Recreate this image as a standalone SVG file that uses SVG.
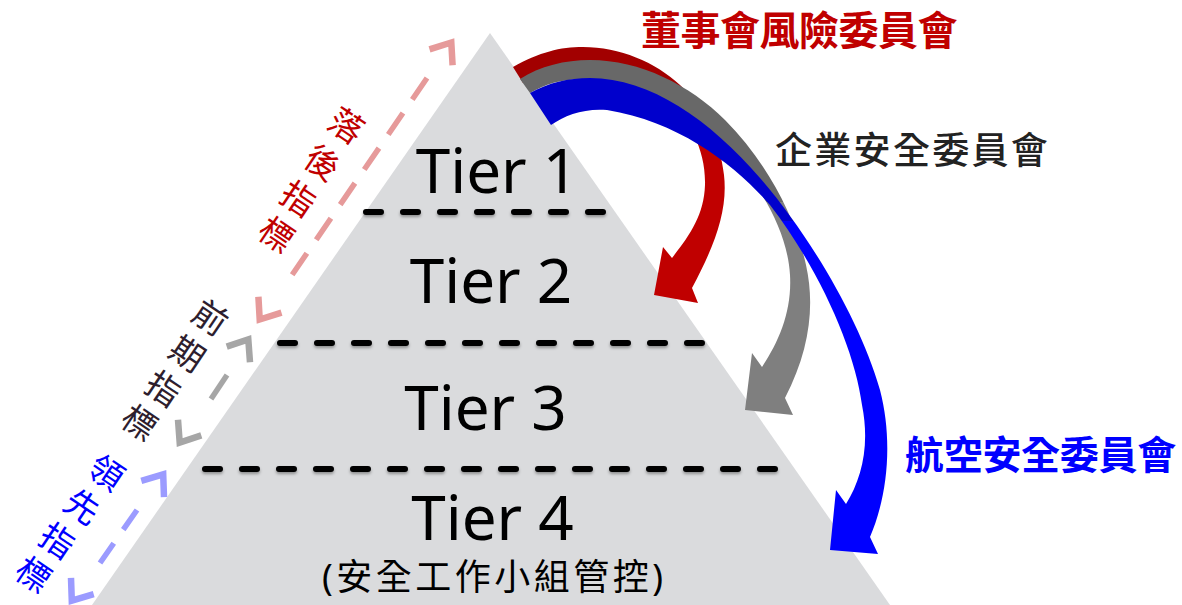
<svg xmlns="http://www.w3.org/2000/svg" width="1182" height="605" viewBox="0 0 1182 605">
  <style>
    .tier { font-family: "Noto Sans", "Open Sans", sans-serif; font-size: 62px; fill: #000; text-anchor: middle; }
    .cjk { font-family: "Noto Sans", "Noto Sans CJK TC", sans-serif; }
    .divider { stroke: #000; stroke-width: 6; stroke-linecap: round; stroke-dasharray: 15 22; fill: none; }
    .ind { fill: none; stroke-width: 5.5; stroke-linecap: butt; }
    .chev { fill: none; stroke-width: 6.5; stroke-linejoin: miter; }
    .lbl { font-family: "Noto Sans CJK TC", sans-serif; font-size: 34px; text-anchor: middle; }
  </style>
  <defs>
    <filter id="sh" x="-5%" y="-100%" width="110%" height="400%">
      <feDropShadow dx="0" dy="2" stdDeviation="1.5" flood-color="#000" flood-opacity="0.35"/>
    </filter>
    <linearGradient id="gRed" x1="0" y1="0" x2="0" y2="1">
      <stop offset="0" stop-color="#a20000"/>
      <stop offset="0.25" stop-color="#a20000"/>
      <stop offset="0.25" stop-color="#c00000"/>
      <stop offset="1" stop-color="#c00000"/>
    </linearGradient>
    <linearGradient id="gGray" x1="0" y1="0" x2="0" y2="1">
      <stop offset="0" stop-color="#686868"/>
      <stop offset="0.4" stop-color="#686868"/>
      <stop offset="0.4" stop-color="#7f7f7f"/>
      <stop offset="1" stop-color="#7f7f7f"/>
    </linearGradient>
    <linearGradient id="gBlue" x1="0" y1="0" x2="0" y2="1">
      <stop offset="0" stop-color="#0000cc"/>
      <stop offset="0.3" stop-color="#0000cc"/>
      <stop offset="0.3" stop-color="#0000ff"/>
      <stop offset="1" stop-color="#0000ff"/>
    </linearGradient>
  </defs>

  <rect width="1182" height="605" fill="#ffffff"/>

  <!-- Pyramid -->
  <g id="pyramid">
    <polygon points="490,33 890,605 92,605" fill="#dadbdd"/>
    <g filter="url(#sh)">
      <line class="divider" x1="366" y1="212" x2="610" y2="212"/>
      <line class="divider" x1="280" y1="343" x2="708" y2="343"/>
      <line class="divider" x1="205" y1="469" x2="782" y2="469"/>
    </g>
  </g>

  <g id="tier1"><text class="tier" x="497" y="193">Tier 1</text></g>
  <g id="tier2"><text class="tier" x="491" y="303">Tier 2</text></g>
  <g id="tier3"><text class="tier" x="485.5" y="430">Tier 3</text></g>
  <g id="tier4">
    <text class="tier" x="492.5" y="540">Tier 4</text>
    <text class="cjk" x="322" y="590" font-size="36" letter-spacing="3.5" fill="#000">(安全工作小組管控)</text>
  </g>

  <!-- Curved arrows -->
  <g id="connectors">
    <path id="arrow-red" fill="url(#gRed)" d="M 513 67 C 540 52 560 47 583 47 C 620 47 655 62 680 85 C 705 108 720 140 724 175 C 728 210 715 245 692 288 L 698 303 L 654 295 L 663 247 L 672 258 C 690 235 704 215 705 185 C 706 150 690 120 665 100 C 640 82 610 66 583 66 C 560 66 540 72 523 83 Z"/>
    <path id="arrow-gray" fill="url(#gGray)" d="M 520 79 C 540 66 565 60 590 60 C 640 60 690 85 725 120 C 765 160 795 215 806 265 C 815 305 810 350 785 398 L 793 415 L 745 410 L 752 353 L 762 367 C 780 340 792 310 790 275 C 788 240 770 200 740 165 C 705 125 650 90 595 80 C 570 77 548 82 530 93 Z"/>
    <path id="arrow-blue" fill="url(#gBlue)" d="M 530 93 C 548 83 568 78 590 78 C 650 78 710 120 760 178 C 810 236 860 320 880 390 C 893 440 888 495 870 537 L 878 554 L 830 550 L 836 490 L 846 504 C 862 478 870 445 862 405 C 855 350 820 270 770 205 C 735 165 680 122 607 110 C 585 108 565 115 551 125 Z"/>

    <!-- indicator double arrows along left edge -->
    <g id="ind-lagging" stroke="#e69a9a">
      <line class="ind" x1="427" y1="78" x2="292" y2="275" stroke-dasharray="26 16.5"/>
      <polyline class="chev" points="429.5,49.3 451.3,42.5 452.6,65.2"/>
      <polyline class="chev" points="281.5,312.7 259.7,319.5 258.4,296.8"/>
    </g>
    <g id="ind-leading-period" stroke="#a6a6a6">
      <line class="ind" x1="227" y1="375" x2="211" y2="399"/>
      <polyline class="chev" points="226.7,346.7 248.3,339.5 250,362.2"/>
      <polyline class="chev" points="201.3,435.3 179.7,442.5 178,419.8"/>
    </g>
    <g id="ind-leading" stroke="#9b9bff">
      <line class="ind" x1="137" y1="510" x2="100" y2="563" stroke-dasharray="24 16.6"/>
      <polyline class="chev" points="141.3,480.8 163.2,474.4 164,497.2"/>
      <polyline class="chev" points="93.7,594.2 71.8,600.6 71,577.8"/>
    </g>
  </g>

  <!-- Committee labels -->
  <g id="label-board">
    <text class="cjk" x="641" y="45" font-size="40" font-weight="bold" letter-spacing="-0.5" fill="#c00000">董事會風險委員會</text>
  </g>
  <g id="label-corporate">
    <text class="cjk" x="775" y="164" font-size="37" font-weight="500" letter-spacing="2.3" fill="#222222">企業安全委員會</text>
  </g>
  <g id="label-aviation">
    <text class="cjk" x="905" y="469" font-size="39" font-weight="bold" letter-spacing="-0.3" fill="#0000ff">航空安全委員會</text>
  </g>

  <!-- Rotated indicator labels -->
  <g id="label-lagging" class="lbl" fill="#c00000">
    <text transform="matrix(0.829 0.559 -0.559 0.829 346 126)" x="0" y="12">落</text>
    <text transform="matrix(0.829 0.559 -0.559 0.829 322 163)" x="0" y="12">後</text>
    <text transform="matrix(0.829 0.559 -0.559 0.829 298 199)" x="0" y="12">指</text>
    <text transform="matrix(0.829 0.559 -0.559 0.829 276 235)" x="0" y="12">標</text>
  </g>
  <g id="label-period" class="lbl" fill="#2e1e2e">
    <text transform="matrix(0.829 0.559 -0.559 0.829 210 318)" x="0" y="12">前</text>
    <text transform="matrix(0.829 0.559 -0.559 0.829 187 354)" x="0" y="12">期</text>
    <text transform="matrix(0.829 0.559 -0.559 0.829 163 389)" x="0" y="12">指</text>
    <text transform="matrix(0.829 0.559 -0.559 0.829 139 423)" x="0" y="12">標</text>
  </g>
  <g id="label-leading" class="lbl" fill="#0000ff">
    <text transform="matrix(0.829 0.559 -0.559 0.829 106 473)" x="0" y="12">領</text>
    <text transform="matrix(0.829 0.559 -0.559 0.829 82 507)" x="0" y="12">先</text>
    <text transform="matrix(0.829 0.559 -0.559 0.829 57 541)" x="0" y="12">指</text>
    <text transform="matrix(0.829 0.559 -0.559 0.829 33 575)" x="0" y="12">標</text>
  </g>
</svg>
